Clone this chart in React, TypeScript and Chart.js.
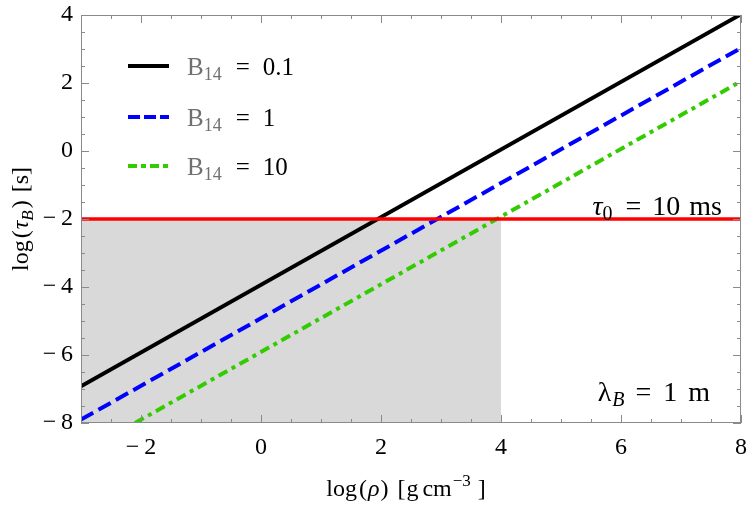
import React, { useEffect, useRef } from "react";
import { Chart, registerables } from "chart.js";

Chart.register(...registerables);

// ---- data ----
const xRange = [-3, 8];
const yRange = [-8, 4];
const xTickValues = [-2, 0, 2, 4, 6, 8];
const yTickValues = [-8, -6, -4, -2, 0, 2, 4];
const minorStep = 0.5;

const b01X = [-3, 8];
const b01Y = [-6.92, 4.02];
const b1X = [-3, 8];
const b1Y = [-7.9, 3.03];
const b10X = [-2.1, 8];
const b10Y = [-8, 2.05];

const tau0Y = -2;
const shadeX = [-3, 4];
const shadeTopY = -2;

const legendValues = ["0.1", "1", "10"];

const SERIF = "'Liberation Serif', 'DejaVu Serif', serif";

function pts(xs: number[], ys: number[]) {
  return xs.map((x, i) => ({ x, y: ys[i] }));
}

const fmt = (v: number) => (v < 0 ? "\u2212\u2009" + Math.abs(v) : String(v));

// text, font, dy, gap after, color
type Run = [string, string, number, number, string?];

function runWidth(ctx: any, runs: Run[]) {
  let w = 0;
  runs.forEach(([t, f, , g]) => {
    ctx.font = f;
    w += ctx.measureText(t).width + g;
  });
  return w - (runs.length ? runs[runs.length - 1][3] : 0);
}

function drawRun(ctx: any, runs: Run[], x: number, y: number, align: "left" | "right" | "center") {
  const w = runWidth(ctx, runs);
  let cx = align === "left" ? x : align === "right" ? x - w : x - w / 2;
  runs.forEach(([t, f, dy, g, c]) => {
    ctx.font = f;
    ctx.fillStyle = c || "#000";
    ctx.fillText(t, cx, y + dy);
    cx += ctx.measureText(t).width + g;
  });
}

const framePlugin = {
  id: "framePlugin",
  afterDatasetsDraw(chart: any) {
    const { ctx, chartArea: a, scales } = chart;
    const xs = scales.x;
    const ys = scales.y;
    ctx.save();
    // frame
    ctx.strokeStyle = "#8a8a8a";
    ctx.lineWidth = 1;
    ctx.strokeRect(a.left + 0.5, a.top + 0.5, a.right - a.left - 1, a.bottom - a.top - 1);
    // ticks (inward, all four sides)
    for (let v = xRange[0]; v <= xRange[1] + 1e-9; v += minorStep) {
      const major = Math.abs(v / 2 - Math.round(v / 2)) < 1e-9;
      const len = major ? 8 : 4;
      const px = Math.round(xs.getPixelForValue(v)) + 0.5;
      ctx.beginPath();
      ctx.moveTo(px, a.bottom);
      ctx.lineTo(px, a.bottom - len);
      ctx.moveTo(px, a.top);
      ctx.lineTo(px, a.top + len);
      ctx.stroke();
    }
    for (let v = yRange[0]; v <= yRange[1] + 1e-9; v += minorStep) {
      const major = Math.abs(v / 2 - Math.round(v / 2)) < 1e-9;
      const len = major ? 8 : 4;
      const py = Math.round(ys.getPixelForValue(v)) + 0.5;
      ctx.beginPath();
      ctx.moveTo(a.left, py);
      ctx.lineTo(a.left + len, py);
      ctx.moveTo(a.right, py);
      ctx.lineTo(a.right - len, py);
      ctx.stroke();
    }

    ctx.textBaseline = "alphabetic";
    ctx.textAlign = "left";

    // legend
    const legendRows = [
      { color: "#000000", dash: [] as number[], y: 66 },
      { color: "#0000ff", dash: [12, 4], y: 117 },
      { color: "#33cc00", dash: [9, 4, 5, 4], y: 166 },
    ];
    legendRows.forEach((r, i) => {
      ctx.strokeStyle = r.color;
      ctx.lineWidth = 4;
      ctx.setLineDash(r.dash);
      ctx.beginPath();
      ctx.moveTo(128, r.y);
      ctx.lineTo(169, r.y);
      ctx.stroke();
      ctx.setLineDash([]);
      drawRun(
        ctx,
        [
          ["B", `25px ${SERIF}`, 0, 0, "#707070"],
          ["14", `18px ${SERIF}`, 5, 14, "#707070"],
          ["=", `25px ${SERIF}`, 0, 13],
          [legendValues[i], `25px ${SERIF}`, 0, 0],
        ],
        187,
        r.y + 9,
        "left"
      );
    });

    // tau0 label
    drawRun(
      ctx,
      [
        ["\u03C4", `italic 28px ${SERIF}`, 0, 0],
        ["0", `20px ${SERIF}`, 5, 13],
        ["=", `28px ${SERIF}`, 0, 11],
        ["10", `28px ${SERIF}`, 0, 9],
        ["ms", `28px ${SERIF}`, 0, 0],
      ],
      722,
      ys.getPixelForValue(tau0Y) - 4,
      "right"
    );
    // lambda label
    drawRun(
      ctx,
      [
        ["\u03BB", `28px ${SERIF}`, 0, 1],
        ["B", `italic 20px ${SERIF}`, 5, 11],
        ["=", `28px ${SERIF}`, 0, 12],
        ["1", `28px ${SERIF}`, 0, 11],
        ["m", `28px ${SERIF}`, 0, 0],
      ],
      710,
      401,
      "right"
    );

    // x axis title
    drawRun(
      ctx,
      [
        ["log", `24px ${SERIF}`, 0, 2],
        ["(", `24px ${SERIF}`, 0, 1],
        ["\u03C1", `italic 24px ${SERIF}`, 0, 1],
        [")", `24px ${SERIF}`, 0, 9],
        ["[", `24px ${SERIF}`, 0, 1],
        ["g", `24px ${SERIF}`, 0, 4],
        ["cm", `24px ${SERIF}`, 0, 1],
        ["\u22123", `17px ${SERIF}`, -10, 7],
        ["]", `24px ${SERIF}`, 0, 0],
      ],
      406,
      496,
      "center"
    );
    // y axis title
    ctx.translate(28, (a.top + a.bottom) / 2);
    ctx.rotate(-Math.PI / 2);
    drawRun(
      ctx,
      [
        ["log", `24px ${SERIF}`, 0, 2],
        ["(", `24px ${SERIF}`, 0, 1],
        ["\u03C4", `italic 24px ${SERIF}`, 0, 0],
        ["B", `italic 17px ${SERIF}`, 5, 2],
        [")", `24px ${SERIF}`, 0, 8],
        ["[s]", `24px ${SERIF}`, 0, 0],
      ],
      0,
      0,
      "center"
    );
    ctx.restore();
  },
};

export default function App() {
  const ref = useRef<HTMLCanvasElement | null>(null);
  useEffect(() => {
    document.body.style.margin = "0";
    const canvas = ref.current!;
    const chart = new Chart(canvas, {
      type: "scatter",
      data: {
        datasets: [
          {
            label: "B14 = 0.1",
            data: pts(b01X, b01Y),
            showLine: true,
            borderColor: "#000000",
            borderWidth: 4,
            pointRadius: 0,
            order: 1,
          },
          {
            label: "B14 = 1",
            data: pts(b1X, b1Y),
            showLine: true,
            borderColor: "#0000ff",
            borderWidth: 4,
            borderDash: [14, 6],
            pointRadius: 0,
            order: 2,
          },
          {
            label: "B14 = 10",
            data: pts(b10X, b10Y),
            showLine: true,
            borderColor: "#33cc00",
            borderWidth: 4,
            borderDash: [10, 5, 4, 5],
            pointRadius: 0,
            order: 3,
          },
          {
            label: "tau0",
            data: pts(xRange, [tau0Y, tau0Y]),
            showLine: true,
            borderColor: "#ff0000",
            borderWidth: 3.5,
            pointRadius: 0,
            order: 0,
          },
          {
            label: "shade",
            data: pts(shadeX, [shadeTopY, shadeTopY]),
            showLine: true,
            borderWidth: 0,
            borderColor: "rgba(0,0,0,0)",
            backgroundColor: "#d9d9d9",
            fill: "start",
            pointRadius: 0,
            order: 10,
          },
        ],
      },
      options: {
        animation: false,
        responsive: false,
        maintainAspectRatio: false,
        layout: { padding: { top: 15, right: 9, left: 0, bottom: 0 } },
        plugins: {
          legend: { display: false },
          tooltip: { enabled: false },
        },
        scales: {
          x: {
            type: "linear",
            min: xRange[0],
            max: xRange[1],
            afterBuildTicks: (s: any) => {
              s.ticks = xTickValues.map((v) => ({ value: v }));
            },
            afterFit: (s: any) => {
              s.height = 88;
              s.paddingLeft = 0;
              s.paddingRight = 0;
            },
            grid: { display: false, drawTicks: false },
            border: { display: false },
            ticks: {
              color: "#000",
              padding: 10,
              font: { family: SERIF, size: 24 },
              callback: (v: any) => fmt(Number(v)),
              maxRotation: 0,
            },
          },
          y: {
            type: "linear",
            min: yRange[0],
            max: yRange[1],
            afterBuildTicks: (s: any) => {
              s.ticks = yTickValues.map((v) => ({ value: v }));
            },
            afterFit: (s: any) => {
              s.width = 81;
              s.paddingTop = 0;
              s.paddingBottom = 0;
            },
            grid: { display: false, drawTicks: false },
            border: { display: false },
            ticks: {
              color: "#000",
              padding: 8,
              font: { family: SERIF, size: 24 },
              callback: (v: any) => fmt(Number(v)),
            },
          },
        },
      },
      plugins: [framePlugin],
    });
    return () => chart.destroy();
  }, []);
  return (
    <div style={{ width: 750, height: 511, background: "#fff" }}>
      <canvas ref={ref} width={750} height={511} style={{ display: "block" }} />
    </div>
  );
}
